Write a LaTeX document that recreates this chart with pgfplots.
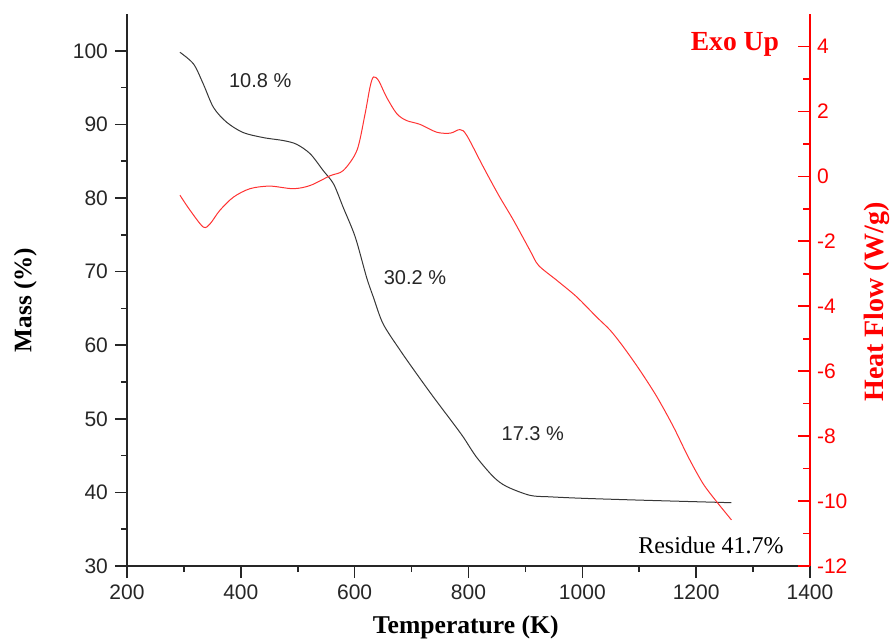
\documentclass[border=0pt]{standalone}
\usepackage{pgfplots}
\pgfplotsset{compat=1.18}
\usepackage{fontspec}
\setmainfont{Liberation Serif}
\newfontfamily\arial{Liberation Sans}
\definecolor{hfred}{RGB}{255,0,0}
\definecolor{curvered}{RGB}{255,50,50}
\definecolor{curveblack}{RGB}{55,55,55}
\begin{document}
\begin{tikzpicture}
\useasboundingbox (-63.5pt,-36.5pt) rectangle (382pt,283pt);
\begin{axis}[
  at={(0,0)}, anchor=south west, scale only axis,
  width=341.5pt, height=276pt,
  xmin=200, xmax=1400, ymin=30, ymax=105,
  axis x line=bottom, axis y line=left,
  axis line style={-, line width=1pt, black!85},
  xtick={200,400,...,1400}, ytick={30,40,...,100},
  minor x tick num=1, minor y tick num=1,
  tick align=outside,
  major tick length=6pt, minor tick length=3pt,
  every tick/.style={black!85, line width=0.8pt},
  tick label style={font=\arial\fontsize{10.5}{12}\selectfont, text=black!85},
  /pgf/number format/assume math mode=true,
  /pgf/number format/1000 sep={},
  xlabel={Temperature (K)}, ylabel={Mass (\%)},
  xlabel style={font=\bfseries\fontsize{12.8}{14}\selectfont, at={(axis description cs:0.496,-0.1105)}, anchor=center},
  ylabel style={font=\bfseries\fontsize{12.6}{14}\selectfont, at={(axis description cs:-0.149,0.482)}, anchor=center},
]
\addplot[curveblack, line width=0.5pt, smooth, tension=0.5] coordinates {
(293,99.8) (317,98.2) (334,95.5) (352,92.3) (375,90.3) (404,88.9) (440,88.2)
(475,87.8) (498,87.3) (522,86.0) (545,83.7) (563,81.9) (580,78.7) (601,74.7)
(621,69.2) (633,66.5) (650,62.9) (680,59.3) (709,56.1) (738,53.0) (773,49.4)
(791,47.5) (814,44.8) (844,42.1) (867,40.8) (908,39.6) (943,39.4) (1000,39.2)
(1101,38.95) (1262,38.6)
};
\node[font=\arial\fontsize{10}{12}\selectfont, text=black!85] at (axis cs:434,95.9) {10.8 \%};
\node[font=\arial\fontsize{10}{12}\selectfont, text=black!85] at (axis cs:706,69.2) {30.2 \%};
\node[font=\arial\fontsize{10}{12}\selectfont, text=black!85] at (axis cs:913,48.0) {17.3 \%};
\node[font=\fontsize{12}{14}\selectfont, text=black] at (axis cs:1226,32.8) {Residue 41.7\%};
\end{axis}
\begin{axis}[
  at={(0,0)}, anchor=south west, scale only axis,
  width=341.5pt, height=276pt,
  xmin=200, xmax=1400, ymin=-12, ymax=5,
  axis y line*=right, axis x line=none,
  axis line style={-, line width=1pt, hfred},
  ytick={-12,-10,...,4}, minor y tick num=1,
  tick align=inside,
  major tick length=6pt, minor tick length=3.5pt,
  every tick/.style={hfred, line width=0.8pt},
  tick label style={font=\arial\fontsize{10.5}{12}\selectfont, text=hfred},
  /pgf/number format/assume math mode=true,
  ylabel={Heat Flow (W/g)},
  ylabel style={font=\bfseries\fontsize{14}{16}\selectfont, text=hfred, at={(axis description cs:1.098,0.478)}, anchor=center},
]
\addplot[curvered, line width=0.5pt, smooth, tension=0.5] coordinates {
(293,-0.58) (311,-1.05) (334,-1.56) (346,-1.46) (363,-1.05) (387,-0.64) (416,-0.38)
(451,-0.30) (492,-0.38) (522,-0.28) (557,0.02) (580,0.18) (604,0.8) (618,1.9)
(627,2.75) (633,3.06) (642,2.95) (656,2.44)
(674,1.93) (691,1.72) (715,1.6) (744,1.36) (768,1.33) (785,1.44) (797,1.26)
(826,0.29) (853,-0.58) (879,-1.35) (908,-2.28) (923,-2.74) (955,-3.2) (990,-3.71)
(1025,-4.33) (1049,-4.74) (1072,-5.25) (1101,-5.97) (1131,-6.79) (1160,-7.71)
(1186,-8.64) (1212,-9.46) (1236,-10.02) (1262,-10.58)
};
\node[font=\bfseries\fontsize{13.8}{16}\selectfont, text=hfred, anchor=east] at (axis cs:1358,4.05) {Exo Up};
\end{axis}
\end{tikzpicture}
\end{document}
